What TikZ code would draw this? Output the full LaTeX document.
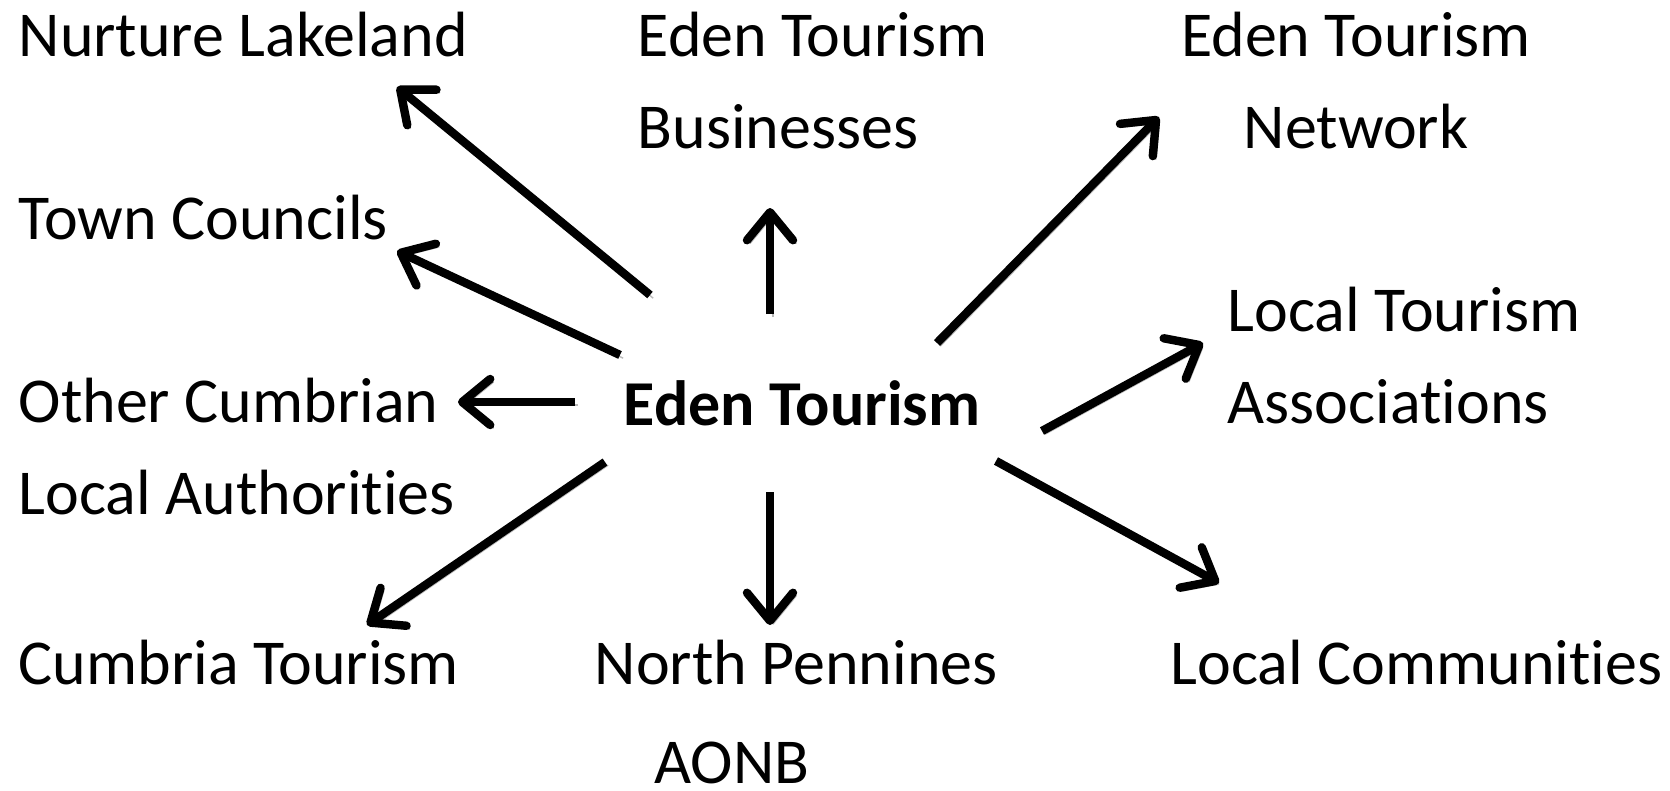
\documentclass[tikz,border=0pt]{standalone}
\usepackage{fontspec}
\setmainfont{Carlito}[Ligatures={NoCommon}]
\usetikzlibrary{arrows.meta}
\tikzset{lbl/.style={inner sep=0pt,align=left,font=\fontsize{18.2}{26}\selectfont},
  link/.style={line width=2.4pt,-{Straight Barb[length=2.8mm,width=4.6mm,line join=round,line cap=round]},
    preaction={draw=gray!55,transform canvas={shift={(0.9pt,-0.9pt)}}}}}

\begin{document}
\begin{tikzpicture}
\useasboundingbox (0,0) rectangle (16.70,7.90);
% centre and the partner organisations
\node[lbl,anchor=base,font=\fontsize{18.2}{26}\selectfont\bfseries] (hub) at (8.02,3.65) {Eden Tourism};
\node[lbl,anchor=base west] (nl) at (0.18,7.34) {Nurture Lakeland};
\node[lbl,anchor=base west] (etb) at (6.37,6.42) {Eden Tourism\\Businesses};
\node[lbl,anchor=base,align=center] (etn) at (13.56,6.42) {Eden Tourism\\Network};
\node[lbl,anchor=base west] (tc) at (0.18,5.51) {Town Councils};
\node[lbl,anchor=base west] (ocla) at (0.18,2.76) {Other Cumbrian\\Local Authorities};
\node[lbl,anchor=base west] (lta) at (12.27,3.67) {Local Tourism\\Associations};
\node[lbl,anchor=base west] (ct) at (0.18,1.06) {Cumbria Tourism};
\node[lbl,anchor=base west] (np) at (5.94,1.06) {North Pennines};
\node[lbl,anchor=base] (aonb) at (7.32,0.07) {AONB};
\node[lbl,anchor=base west] (lc) at (11.70,1.06) {Local Communities};
% arrow ends round the centre
\coordinate (nl-s) at (6.50,4.95);  \coordinate (nl-e) at (3.97,7.03);
\coordinate (tc-s) at (6.20,4.35);  \coordinate (tc-e) at (3.97,5.39);
\coordinate (oc-s) at (5.75,3.88);  \coordinate (oc-e) at (4.58,3.88);
\coordinate (ct-s) at (6.05,3.28);  \coordinate (ct-e) at (3.67,1.65);
\coordinate (np-s) at (7.70,2.98);  \coordinate (np-e) at (7.70,1.65);
\coordinate (lc-s) at (9.96,3.29);  \coordinate (lc-e) at (12.19,2.07);
\coordinate (la-s) at (10.42,3.59); \coordinate (la-e) at (12.03,4.47);
\coordinate (en-s) at (9.37,4.47);  \coordinate (en-e) at (11.59,6.73);
\coordinate (eb-s) at (7.70,4.76);  \coordinate (eb-e) at (7.70,5.82);
\draw[link] (nl-s) -- (nl-e);
\draw[link] (tc-s) -- (tc-e);
\draw[link] (oc-s) -- (oc-e);
\draw[link] (ct-s) -- (ct-e);
\draw[link] (np-s) -- (np-e);
\draw[link] (lc-s) -- (lc-e);
\draw[link] (la-s) -- (la-e);
\draw[link] (en-s) -- (en-e);
\draw[link] (eb-s) -- (eb-e);
\end{tikzpicture}
\end{document}
